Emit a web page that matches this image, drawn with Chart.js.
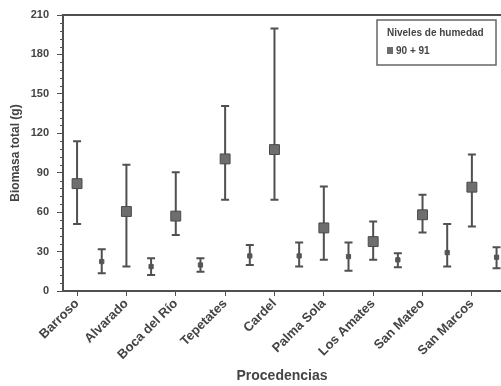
<!DOCTYPE html>
<html lang="es">
<head>
<meta name="viewport" content="width=device-width, initial-scale=1">
<title>Biomasa total por procedencia</title>
<style>
  html, body { margin: 0; padding: 0; background: #fff; overflow: hidden; }
  #wrap { width: 509px; height: 386px; }
</style>
</head>
<body>
<div id="wrap">
<canvas id="canvas"></canvas>
</div>
<script src="https://cdn.jsdelivr.net/npm/chart.js"></script>
<script>

let CATEGORIES = ["Barroso", "Alvarado", "Boca del Río", "Tepetates", "Cardel",
                  "Palma Sola", "Los Amates", "San Mateo", "San Marcos"]

// 90 + 91 (square markers)
let MEAN_A = [81.7, 60.5, 57.0, 100.5, 107.6, 48.0, 37.6, 58.0, 79.0]
let LOW_A  = [51.0, 18.6, 42.7, 69.5, 69.5, 23.7, 23.7, 44.5, 49.0]
let HIGH_A = [114.0, 96.0, 90.3, 140.7, 199.7, 79.6, 52.9, 73.3, 103.8]

// second level (small markers)
let MEAN_B = [22.4, 18.6, 19.8, 26.7, 26.7, 26.2, 23.7, 29.2, 25.7]
let LOW_B  = [13.5, 12.2, 14.7, 19.8, 18.6, 15.5, 18.0, 18.6, 17.3]
let HIGH_B = [31.8, 25.0, 25.0, 35.0, 36.9, 36.9, 28.8, 51.0, 33.3]

let Y_TICKS = [0, 30, 60, 90, 120, 150, 180, 210]

let LEGEND_TITLE = "Niveles de humedad"
let LEGEND_LABEL = "90 + 91"

let INK = "#505050"
let FONT = "Liberation Sans"

function points(means, shift) {
    return means.map((v, i) => ({x: i * 2 + shift, y: v}))
}

let errorBars = {
    id: "errorBars",
    beforeDatasetsDraw(chart) {
        let x = chart.scales.x, y = chart.scales.y, c = chart.ctx
        c.save()
        c.strokeStyle = INK
        c.lineWidth = 2
        let draw = (lows, highs, shift, cap) => {
            lows.forEach((lo, i) => {
                let px = x.getPixelForValue(i * 2 + shift)
                let p1 = y.getPixelForValue(lo), p2 = y.getPixelForValue(highs[i])
                c.beginPath()
                c.moveTo(px, p1); c.lineTo(px, p2)
                c.moveTo(px - cap, p1); c.lineTo(px + cap, p1)
                c.moveTo(px - cap, p2); c.lineTo(px + cap, p2)
                c.stroke()
            })
        }
        draw(LOW_A, HIGH_A, 0, 4)
        draw(LOW_B, HIGH_B, 1, 4)
        c.restore()
    },
    afterDraw(chart) {
        let a = chart.chartArea, c = chart.ctx, y = chart.scales.y
        c.save()
        c.strokeStyle = INK
        c.lineWidth = 2
        c.beginPath()
        c.moveTo(a.left, a.top); c.lineTo(a.right, a.top)
        c.stroke()

        // minor ticks on the y axis
        c.lineWidth = 1
        c.beginPath()
        for (let v = 0; v <= 210; v += 6) {
            if (v % 30 == 0) continue
            let py = Math.round(y.getPixelForValue(v)) + 0.5
            c.moveTo(a.left - 3, py); c.lineTo(a.left, py)
        }
        c.stroke()

        // legend box, top right inside the plot
        let bx = 377, by = 20, bw = 119, bh = 45
        c.lineWidth = 1.5
        c.strokeStyle = "#666"
        c.fillStyle = "#fff"
        c.fillRect(bx, by, bw, bh)
        c.strokeRect(bx, by, bw, bh)
        c.fillStyle = "#444"
        c.font = "bold 10px " + FONT
        c.textBaseline = "middle"
        c.fillText(LEGEND_TITLE, bx + 10, by + 13)
        c.fillStyle = "#6e6e6e"
        c.fillRect(bx + 10, by + 27, 6, 7)
        c.fillStyle = "#444"
        c.fillText(LEGEND_LABEL, bx + 19, by + 31)
        c.restore()
    }
}

let ctx = document.getElementById("canvas")

new Chart(ctx, {
    type: "scatter",
    data: {
        datasets: [
            {
                label: LEGEND_LABEL,
                data: points(MEAN_A, 0),
                pointStyle: "rect",
                pointRadius: 7,
                backgroundColor: "#6e6e6e",
                borderColor: "#4a4a4a",
                borderWidth: 1,
            },
            {
                label: "otro",
                data: points(MEAN_B, 1),
                pointStyle: "rect",
                pointRadius: 3,
                backgroundColor: "#555",
                borderColor: "#555",
                borderWidth: 1,
            },
        ]
    },
    options: {
        responsive: true,
        maintainAspectRatio: false,
        animation: false,
        layout: {padding: {top: 15, right: 1, left: 0, bottom: 0}},
        plugins: {
            tooltip: {enabled: false},
            legend: {display: false},
        },
        scales: {
            x: {
                type: "linear",
                min: -0.57,
                max: 17.18,
                afterFit: s => { s.height = 95 },
                afterBuildTicks: s => { s.ticks = CATEGORIES.map((_, i) => ({value: i * 2})) },
                border: {color: INK, width: 2},
                grid: {drawOnChartArea: false, tickLength: 5, color: INK, lineWidth: 1},
                ticks: {
                    autoSkip: false,
                    minRotation: 45,
                    maxRotation: 45,
                    padding: 0,
                    color: "#444",
                    font: {family: FONT, size: 13, weight: "bold"},
                    callback: v => CATEGORIES[v / 2],
                },
                title: {
                    display: true,
                    text: "Procedencias",
                    color: "#444",
                    padding: {top: 0, bottom: 1},
                    font: {family: FONT, size: 14, weight: "bold"},
                },
            },
            y: {
                min: 0,
                max: 210,
                afterFit: s => { s.width = 63 },
                afterBuildTicks: s => { s.ticks = Y_TICKS.map(v => ({value: v})) },
                border: {color: INK, width: 2},
                grid: {drawOnChartArea: false, tickLength: 6, color: INK, lineWidth: 1},
                ticks: {
                    padding: 8,
                    color: "#444",
                    font: {family: FONT, size: 11, weight: "bold"},
                },
                title: {
                    display: true,
                    text: "Biomasa total (g)",
                    color: "#444",
                    padding: {top: 8, bottom: 0},
                    font: {family: FONT, size: 12, weight: "bold"},
                },
            },
        },
    },
    plugins: [errorBars],
})

</script>
</body>
</html>
